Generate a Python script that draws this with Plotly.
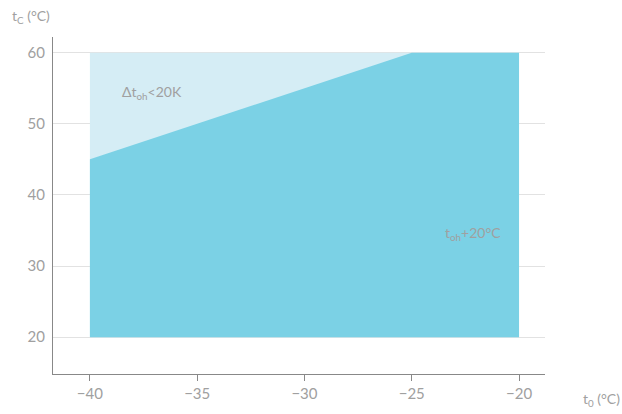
import plotly.graph_objects as go

# Data
t0_envelope = [-40, -40, -20, -20]
tc_envelope = [20, 60, 60, 20]
t0_limit = [-40, -40, -25, -20, -20]
tc_limit = [20, 45, 60, 60, 20]
x_ticks = [-40, -35, -30, -25, -20]
x_tick_labels = ["\u221240", "\u221235", "\u221230", "\u221225", "\u221220"]
y_ticks = [20, 30, 40, 50, 60]

FONT = "Lato, 'Open Sans', sans-serif"
GRAY = "#a0a0a0"
W, H = 622, 414
L, R, T, B = 53, 77, 37, 38

fig = go.Figure()
fig.add_trace(go.Scatter(x=t0_envelope, y=tc_envelope, fill="toself", mode="none",
                         fillcolor="#d5edf5", hoverinfo="skip", showlegend=False))
fig.add_trace(go.Scatter(x=t0_limit, y=tc_limit, fill="toself", mode="none",
                         fillcolor="#7bd1e5", hoverinfo="skip", showlegend=False))

pw, ph = W - L - R, H - T - B


def px_to_paper(x, y):
    return (x - L) / pw, (H - B - y) / ph


tcx, tcy = px_to_paper(10, 16)
t0x, t0y = px_to_paper(581, 402)

fig.update_layout(
    width=W, height=H,
    margin=dict(l=L, r=R, t=T, b=B),
    paper_bgcolor="white", plot_bgcolor="white",
    font=dict(family=FONT, color=GRAY, size=14),
    xaxis=dict(range=[-41.72, -18.79], tickvals=x_ticks, ticktext=x_tick_labels,
               showgrid=False, zeroline=False, showline=True, linecolor="#888888",
               linewidth=1, ticks="outside", ticklen=6, tickcolor="#888888",
               tickfont=dict(size=15, color=GRAY, family=FONT)),
    yaxis=dict(range=[14.83, 62.2], tickvals=y_ticks, showgrid=True,
               gridcolor="#e2e2e2", gridwidth=1, zeroline=False, showline=True,
               linecolor="#888888", linewidth=1, ticks="", ticklabelstandoff=4,
               tickfont=dict(size=15, color=GRAY, family=FONT)),
    annotations=[
        dict(x=-38.6, y=54.4, xref="x", yref="y", showarrow=False, xanchor="left",
             text="\u0394t<sub>oh</sub>&lt;20K", font=dict(size=14, color=GRAY, family=FONT)),
        dict(x=-23.55, y=34.6, xref="x", yref="y", showarrow=False, xanchor="left",
             text="t<sub>oh</sub>+20\u00b0C", font=dict(size=14, color=GRAY, family=FONT)),
        dict(x=tcx, y=tcy, xref="paper", yref="paper", showarrow=False, yanchor="middle",
             text="t<sub>C</sub> (\u00b0C)", xanchor="left", font=dict(size=14, color=GRAY, family=FONT)),
        dict(x=t0x, y=t0y, xref="paper", yref="paper", showarrow=False, yanchor="middle",
             text="t<sub>0</sub> (\u00b0C)", xanchor="left", font=dict(size=14, color=GRAY, family=FONT)),
    ],
)

fig.write_html("out.html", config={"displayModeBar": False},
               post_script="document.body.style.margin='0';document.body.style.overflow='hidden';")
